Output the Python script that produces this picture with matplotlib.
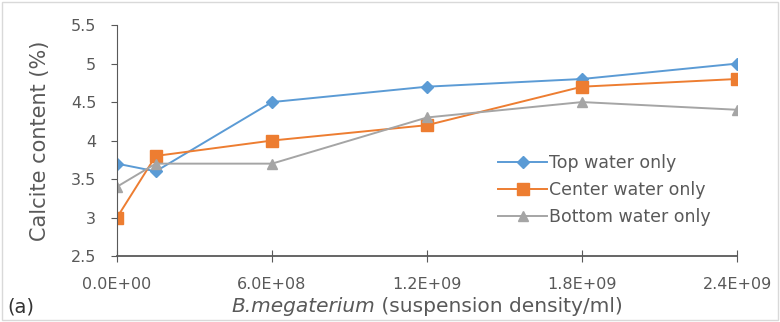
import numpy as np
import matplotlib
matplotlib.use("Agg")
import matplotlib.pyplot as plt

density = [0, 1.5e8, 6.0e8, 1.2e9, 1.8e9, 2.4e9]
top_water = [3.7, 3.6, 4.5, 4.7, 4.8, 5.0]
center_water = [3.0, 3.8, 4.0, 4.2, 4.7, 4.8]
bottom_water = [3.4, 3.7, 3.7, 4.3, 4.5, 4.4]
xtick_vals = [0, 6.0e8, 1.2e9, 1.8e9, 2.4e9]
xtick_labels = ["0.0E+00", "6.0E+08", "1.2E+09", "1.8E+09", "2.4E+09"]
ytick_vals = [2.5, 3, 3.5, 4, 4.5, 5, 5.5]
ytick_labels = ["2.5", "3", "3.5", "4", "4.5", "5", "5.5"]

plt.rcParams['font.family'] = ['DejaVu Sans']
grey = '#595959'

fig = plt.figure(figsize=(7.8, 3.22), dpi=100)
ax = fig.add_axes([0.15, 0.205, 0.795, 0.717])

ax.plot(density, top_water, '-D', color='#5B9BD5', markersize=6.5, lw=1.4, label='Top water only')
ax.plot(density, center_water, '-s', color='#ED7D31', markersize=9, lw=1.4, label='Center water only')
ax.plot(density, bottom_water, '-^', color='#A5A5A5', markersize=7.5, lw=1.4, label='Bottom water only')

ax.set_xlim(0, 2.4e9)
ax.set_ylim(2.5, 5.5)
ax.set_xticks(xtick_vals)
ax.set_xticklabels(xtick_labels)
ax.set_yticks(ytick_vals)
ax.set_yticklabels(ytick_labels)
ax.tick_params(axis='x', direction='inout', length=8, colors=grey, labelsize=11.5, pad=11)
ax.tick_params(axis='y', direction='out', length=4, colors=grey, labelsize=11.5, pad=11)
for s in ['top', 'right']:
    ax.spines[s].set_visible(False)
ax.spines['left'].set_color(grey)
ax.spines['bottom'].set_color(grey)
ax.spines['bottom'].set_linewidth(1.3)

ax.set_ylabel('Calcite content (%)', fontsize=15, color=grey)
ax.yaxis.set_label_coords(-0.108, 0.5)

# x label: italic species name followed by upright text
xl_y = 0.047
t1 = fig.text(0.5, xl_y, 'B.megaterium', fontsize=14.5, color=grey, style='italic', ha='left', va='center')
t2 = fig.text(0.5, xl_y, ' (suspension density/ml)', fontsize=14.5, color=grey, ha='left', va='center')
fig.canvas.draw()
r = fig.canvas.get_renderer()
w1 = t1.get_window_extent(r).width / fig.bbox.width
w2 = t2.get_window_extent(r).width / fig.bbox.width
x0 = 0.15 + 0.795 / 2 - (w1 + w2) / 2
t1.set_x(x0)
t2.set_x(x0 + w1)

fig.text(0.01, 0.03, '(a)', fontsize=14, color='#333333')

leg = ax.legend(loc='upper left', bbox_to_anchor=(0.615, 0.44), frameon=False, fontsize=12.5,
                labelcolor=grey, handlelength=2.8, handletextpad=0.1, labelspacing=0.5,
                borderpad=0, borderaxespad=0)

fig.patches.append(plt.Rectangle((0.003, 0.005), 0.994, 0.99, transform=fig.transFigure,
                                 fill=False, edgecolor='#d9d9d9', lw=1))

fig.savefig('out.png', dpi=100)
